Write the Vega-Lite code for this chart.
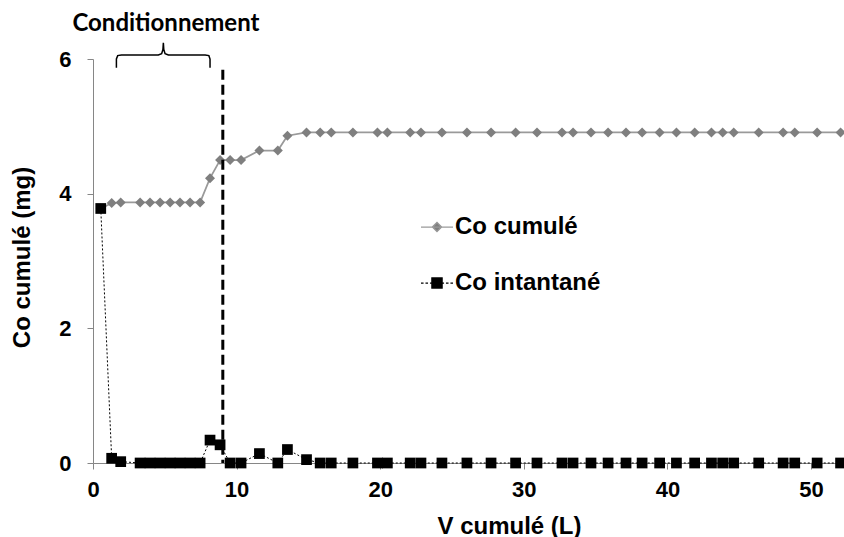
{
  "$schema": "https://vega.github.io/schema/vega-lite/v6.json",
  "width": 751,
  "height": 404,
  "autosize": {"type": "none"},
  "padding": {"left": 93, "top": 59, "right": 0, "bottom": 74},
  "background": "white",
  "config": {"view": {"stroke": null}, "font": "Arial, Liberation Sans, sans-serif"},
  "datasets": {
    "mesures": [
      {"v": 0.54, "co": 3.78, "serie": "Co cumulé"},
      {"v": 1.30, "co": 3.86, "serie": "Co cumulé"},
      {"v": 1.93, "co": 3.87, "serie": "Co cumulé"},
      {"v": 3.28, "co": 3.87, "serie": "Co cumulé"},
      {"v": 3.97, "co": 3.87, "serie": "Co cumulé"},
      {"v": 4.67, "co": 3.87, "serie": "Co cumulé"},
      {"v": 5.37, "co": 3.87, "serie": "Co cumulé"},
      {"v": 6.06, "co": 3.87, "serie": "Co cumulé"},
      {"v": 6.76, "co": 3.87, "serie": "Co cumulé"},
      {"v": 7.46, "co": 3.87, "serie": "Co cumulé"},
      {"v": 8.15, "co": 4.23, "serie": "Co cumulé"},
      {"v": 8.85, "co": 4.50, "serie": "Co cumulé"},
      {"v": 9.55, "co": 4.50, "serie": "Co cumulé"},
      {"v": 10.31, "co": 4.50, "serie": "Co cumulé"},
      {"v": 11.59, "co": 4.64, "serie": "Co cumulé"},
      {"v": 12.87, "co": 4.64, "serie": "Co cumulé"},
      {"v": 13.54, "co": 4.86, "serie": "Co cumulé"},
      {"v": 14.87, "co": 4.91, "serie": "Co cumulé"},
      {"v": 15.82, "co": 4.91, "serie": "Co cumulé"},
      {"v": 16.59, "co": 4.91, "serie": "Co cumulé"},
      {"v": 18.10, "co": 4.91, "serie": "Co cumulé"},
      {"v": 19.81, "co": 4.91, "serie": "Co cumulé"},
      {"v": 20.50, "co": 4.91, "serie": "Co cumulé"},
      {"v": 22.09, "co": 4.91, "serie": "Co cumulé"},
      {"v": 22.84, "co": 4.91, "serie": "Co cumulé"},
      {"v": 24.30, "co": 4.91, "serie": "Co cumulé"},
      {"v": 26.04, "co": 4.91, "serie": "Co cumulé"},
      {"v": 27.72, "co": 4.91, "serie": "Co cumulé"},
      {"v": 29.43, "co": 4.91, "serie": "Co cumulé"},
      {"v": 30.92, "co": 4.91, "serie": "Co cumulé"},
      {"v": 32.66, "co": 4.91, "serie": "Co cumulé"},
      {"v": 33.43, "co": 4.91, "serie": "Co cumulé"},
      {"v": 34.68, "co": 4.91, "serie": "Co cumulé"},
      {"v": 35.87, "co": 4.91, "serie": "Co cumulé"},
      {"v": 37.12, "co": 4.91, "serie": "Co cumulé"},
      {"v": 38.24, "co": 4.91, "serie": "Co cumulé"},
      {"v": 39.46, "co": 4.91, "serie": "Co cumulé"},
      {"v": 40.63, "co": 4.91, "serie": "Co cumulé"},
      {"v": 41.90, "co": 4.91, "serie": "Co cumulé"},
      {"v": 43.07, "co": 4.91, "serie": "Co cumulé"},
      {"v": 43.85, "co": 4.91, "serie": "Co cumulé"},
      {"v": 44.62, "co": 4.91, "serie": "Co cumulé"},
      {"v": 46.36, "co": 4.91, "serie": "Co cumulé"},
      {"v": 48.06, "co": 4.91, "serie": "Co cumulé"},
      {"v": 48.87, "co": 4.91, "serie": "Co cumulé"},
      {"v": 50.43, "co": 4.91, "serie": "Co cumulé"},
      {"v": 52.06, "co": 4.91, "serie": "Co cumulé"},
      {"v": 0.54, "co": 3.78, "serie": "Co intantané"},
      {"v": 1.30, "co": 0.07, "serie": "Co intantané"},
      {"v": 1.93, "co": 0.02, "serie": "Co intantané"},
      {"v": 3.28, "co": 0, "serie": "Co intantané"},
      {"v": 3.97, "co": 0, "serie": "Co intantané"},
      {"v": 4.67, "co": 0, "serie": "Co intantané"},
      {"v": 5.37, "co": 0, "serie": "Co intantané"},
      {"v": 6.06, "co": 0, "serie": "Co intantané"},
      {"v": 6.76, "co": 0, "serie": "Co intantané"},
      {"v": 7.46, "co": 0, "serie": "Co intantané"},
      {"v": 8.15, "co": 0.34, "serie": "Co intantané"},
      {"v": 8.85, "co": 0.27, "serie": "Co intantané"},
      {"v": 9.55, "co": 0, "serie": "Co intantané"},
      {"v": 10.31, "co": 0, "serie": "Co intantané"},
      {"v": 11.59, "co": 0.14, "serie": "Co intantané"},
      {"v": 12.87, "co": 0, "serie": "Co intantané"},
      {"v": 13.54, "co": 0.20, "serie": "Co intantané"},
      {"v": 14.87, "co": 0.05, "serie": "Co intantané"},
      {"v": 15.82, "co": 0, "serie": "Co intantané"},
      {"v": 16.59, "co": 0, "serie": "Co intantané"},
      {"v": 18.10, "co": 0, "serie": "Co intantané"},
      {"v": 19.81, "co": 0, "serie": "Co intantané"},
      {"v": 20.50, "co": 0, "serie": "Co intantané"},
      {"v": 22.09, "co": 0, "serie": "Co intantané"},
      {"v": 22.84, "co": 0, "serie": "Co intantané"},
      {"v": 24.30, "co": 0, "serie": "Co intantané"},
      {"v": 26.04, "co": 0, "serie": "Co intantané"},
      {"v": 27.72, "co": 0, "serie": "Co intantané"},
      {"v": 29.43, "co": 0, "serie": "Co intantané"},
      {"v": 30.92, "co": 0, "serie": "Co intantané"},
      {"v": 32.66, "co": 0, "serie": "Co intantané"},
      {"v": 33.43, "co": 0, "serie": "Co intantané"},
      {"v": 34.68, "co": 0, "serie": "Co intantané"},
      {"v": 35.87, "co": 0, "serie": "Co intantané"},
      {"v": 37.12, "co": 0, "serie": "Co intantané"},
      {"v": 38.24, "co": 0, "serie": "Co intantané"},
      {"v": 39.46, "co": 0, "serie": "Co intantané"},
      {"v": 40.63, "co": 0, "serie": "Co intantané"},
      {"v": 41.90, "co": 0, "serie": "Co intantané"},
      {"v": 43.07, "co": 0, "serie": "Co intantané"},
      {"v": 43.85, "co": 0, "serie": "Co intantané"},
      {"v": 44.62, "co": 0, "serie": "Co intantané"},
      {"v": 46.36, "co": 0, "serie": "Co intantané"},
      {"v": 48.06, "co": 0, "serie": "Co intantané"},
      {"v": 48.87, "co": 0, "serie": "Co intantané"},
      {"v": 50.43, "co": 0, "serie": "Co intantané"},
      {"v": 52.06, "co": 0, "serie": "Co intantané"}
    ],
    "accolade": [
      {"i": 1, "v": 1.63, "co": 5.87},
      {"i": 2, "v": 1.63, "co": 6.00},
      {"i": 3, "v": 1.72, "co": 6.05},
      {"i": 4, "v": 1.98, "co": 6.06},
      {"i": 5, "v": 4.55, "co": 6.06},
      {"i": 6, "v": 4.78, "co": 6.08},
      {"i": 7, "v": 4.87, "co": 6.14},
      {"i": 8, "v": 4.90, "co": 6.24},
      {"i": 9, "v": 4.93, "co": 6.14},
      {"i": 10, "v": 5.02, "co": 6.08},
      {"i": 11, "v": 5.25, "co": 6.06},
      {"i": 12, "v": 7.81, "co": 6.06},
      {"i": 13, "v": 8.07, "co": 6.05},
      {"i": 14, "v": 8.15, "co": 6.00},
      {"i": 15, "v": 8.15, "co": 5.87}
    ]
  },
  "layer": [
    {
      "data": {"name": "mesures"},
      "transform": [{"filter": "datum.serie === 'Co cumulé'"}],
      "mark": {"type": "line", "color": "#9a9a9a", "strokeWidth": 1.75},
      "encoding": {
        "x": {
          "field": "v", "type": "quantitative",
          "scale": {"domain": [0, 52.3], "nice": false, "zero": false},
          "axis": {
            "values": [0, 10, 20, 30, 40, 50], "grid": false, "format": "d",
            "domainColor": "#868686", "tickColor": "#868686", "tickSize": 6,
            "labelFont": "Arial, Liberation Sans, sans-serif", "labelFontSize": 22, "labelFontWeight": "bold",
            "labelColor": "black", "labelPadding": 10, "labelFlush": false,
            "title": "V cumulé (L)", "titleFont": "Arial, Liberation Sans, sans-serif", "titleFontSize": 24,
            "titleFontWeight": "bold", "titleColor": "black",
            "titleX": 416, "titleY": 70, "titleBaseline": "alphabetic", "titleAlign": "center"
          }
        },
        "y": {
          "field": "co", "type": "quantitative",
          "scale": {"domain": [0, 6], "nice": false},
          "axis": {
            "values": [0, 2, 4, 6], "grid": false, "format": "d",
            "domainColor": "#868686", "tickColor": "#868686", "tickSize": 6,
            "labelFont": "Arial, Liberation Sans, sans-serif", "labelFontSize": 22, "labelFontWeight": "bold",
            "labelColor": "black", "labelPadding": 16, "labelFlush": false,
            "title": "Co cumulé (mg)", "titleFont": "Arial, Liberation Sans, sans-serif", "titleFontSize": 24,
            "titleFontWeight": "bold", "titleColor": "black", "titleAngle": 270,
            "titleX": -71, "titleY": 198, "titleBaseline": "middle", "titleAlign": "center"
          }
        }
      }
    },
    {
      "data": {"name": "mesures"},
      "transform": [{"filter": "datum.serie === 'Co intantané'"}],
      "mark": {"type": "line", "color": "black", "strokeWidth": 1, "strokeDash": [2, 2]},
      "encoding": {
        "x": {"field": "v", "type": "quantitative"},
        "y": {"field": "co", "type": "quantitative"}
      }
    },
    {
      "data": {"name": "mesures"},
      "transform": [{"filter": "datum.serie === 'Co cumulé'"}],
      "mark": {"type": "point", "shape": "diamond", "filled": true, "opacity": 1, "color": "#7f7f7f", "size": 100},
      "encoding": {
        "x": {"field": "v", "type": "quantitative"},
        "y": {"field": "co", "type": "quantitative"}
      }
    },
    {
      "data": {"name": "mesures"},
      "transform": [{"filter": "datum.serie === 'Co intantané'"}],
      "mark": {"type": "point", "shape": "square", "filled": true, "opacity": 1, "color": "#000000", "size": 115},
      "encoding": {
        "x": {"field": "v", "type": "quantitative"},
        "y": {"field": "co", "type": "quantitative"}
      }
    },
    {
      "data": {"name": "mesures"},
      "transform": [{"filter": "datum.v < -100"}],
      "mark": {"type": "point", "filled": true, "opacity": 1, "strokeWidth": 1.25},
      "encoding": {
        "x": {"field": "v", "type": "quantitative"},
        "y": {"field": "co", "type": "quantitative"},
        "fill": {
          "field": "serie", "type": "nominal",
          "scale": {"domain": ["Co cumulé", "Co intantané"], "range": ["#7f7f7f", "#000000"]},
          "legend": {
            "orient": "none", "legendX": 327, "legendY": 151, "title": null, "padding": 0,
            "symbolSize": 1024, "symbolStrokeWidth": 1.25,
            "labelFont": "Arial, Liberation Sans, sans-serif", "labelFontSize": 24, "labelFontWeight": "bold",
            "labelColor": "black", "labelOffset": 1, "rowPadding": 27
          }
        },
        "stroke": {
          "field": "serie", "type": "nominal",
          "scale": {"domain": ["Co cumulé", "Co intantané"], "range": ["#9a9a9a", "#000000"]},
          "legend": {
            "orient": "none", "legendX": 327, "legendY": 151, "title": null, "padding": 0,
            "symbolSize": 1024, "symbolStrokeWidth": 1.25,
            "labelFont": "Arial, Liberation Sans, sans-serif", "labelFontSize": 24, "labelFontWeight": "bold",
            "labelColor": "black", "labelOffset": 1, "rowPadding": 27
          }
        },
        "shape": {
          "field": "serie", "type": "nominal",
          "scale": {"domain": ["Co cumulé", "Co intantané"], "range": ["M-1,0L1,0M-0.29,0L0,-0.29L0.29,0L0,0.29Z", "M-1,0L-0.84,0M-0.72,0L-0.56,0M-0.44,0L-0.34,0M0.34,0L0.44,0M0.56,0L0.72,0M0.84,0L1,0M-0.32,-0.32L0.32,-0.32L0.32,0.32L-0.32,0.32Z"]},
          "legend": {
            "orient": "none", "legendX": 327, "legendY": 151, "title": null, "padding": 0,
            "symbolSize": 1024, "symbolStrokeWidth": 1.25,
            "labelFont": "Arial, Liberation Sans, sans-serif", "labelFontSize": 24, "labelFontWeight": "bold",
            "labelColor": "black", "labelOffset": 1, "rowPadding": 27
          }
        }
      }
    },
    {
      "data": {"values": [{"v": 9.04, "co": 5.84, "co2": 0}]},
      "mark": {"type": "rule", "color": "black", "strokeWidth": 3, "strokeDash": [10, 5]},
      "encoding": {
        "x": {"field": "v", "type": "quantitative"},
        "y": {"field": "co", "type": "quantitative"},
        "y2": {"field": "co2"}
      }
    },
    {
      "data": {"name": "accolade"},
      "mark": {"type": "line", "color": "black", "strokeWidth": 1.5, "clip": false},
      "encoding": {
        "x": {"field": "v", "type": "quantitative"},
        "y": {"field": "co", "type": "quantitative"},
        "order": {"field": "i", "type": "quantitative"}
      }
    },
    {
      "data": {"values": [{"v": 5.08, "co": 6.42, "label": "Conditionnement"}]},
      "mark": {"type": "text", "font": "Lato", "fontSize": 24, "fontWeight": "bold", "align": "center", "baseline": "alphabetic", "color": "black", "clip": false},
      "encoding": {
        "x": {"field": "v", "type": "quantitative"},
        "y": {"field": "co", "type": "quantitative"},
        "text": {"field": "label"}
      }
    }
  ]
}
